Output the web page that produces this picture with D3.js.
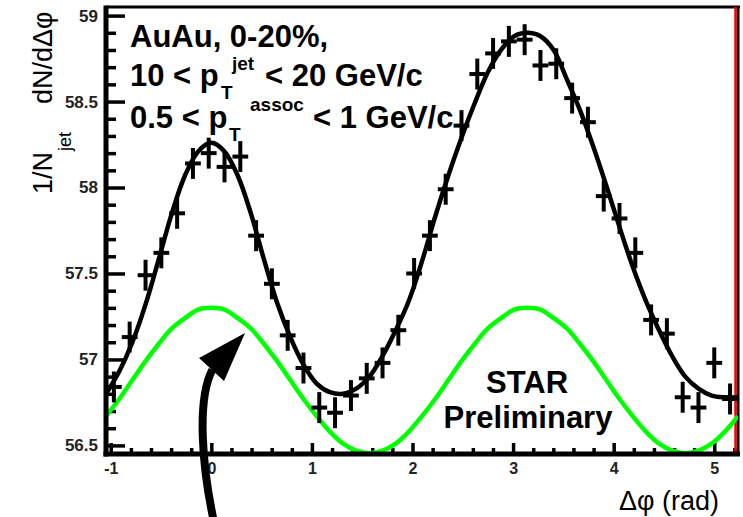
<!DOCTYPE html>
<html><head><meta charset="utf-8">
<script src="https://cdn.jsdelivr.net/npm/d3@7"></script>
<style>
body{margin:0;background:#fff}
svg{display:block;background:#fff}
text{font-family:"Liberation Sans",Arial,Helvetica,sans-serif}
</style>
</head><body>
<svg id="c" width="743" height="517"></svg>
<script>
// ---------- data ----------
const binCenters = [-0.969,-0.812,-0.654,-0.497,-0.340,-0.183,-0.026,0.131,0.288,0.445,
  0.602,0.759,0.916,1.073,1.230,1.388,1.545,1.702,1.859,2.016,
  2.173,2.330,2.487,2.644,2.801,2.958,3.115,3.272,3.429,3.587,
  3.744,3.901,4.058,4.215,4.372,4.529,4.686,4.843,5.000,5.157];
const binHalfWidth = 0.0785;
const binValues = [56.84,57.13,57.49,57.62,57.85,58.14,58.20,58.12,58.18,57.72,
  57.44,57.14,56.95,56.72,56.69,56.79,56.89,56.98,57.17,57.50,
  57.72,57.99,58.36,58.66,58.78,58.85,58.86,58.71,58.72,58.52,
  58.38,57.95,57.82,57.62,57.23,57.15,56.78,56.72,56.98,56.77];
const binErrors = [0.09,0.09,0.09,0.09,0.09,0.09,0.09,0.09,0.09,0.09,
  0.09,0.09,0.09,0.09,0.09,0.09,0.09,0.09,0.09,0.09,
  0.09,0.09,0.09,0.09,0.09,0.09,0.09,0.09,0.09,0.09,
  0.09,0.09,0.09,0.09,0.09,0.09,0.09,0.09,0.09,0.09];
const curveX = [-1.047,-0.916,-0.785,-0.654,-0.524,-0.393,-0.262,-0.131,0,0.131,
  0.262,0.393,0.524,0.654,0.785,0.916,1.047,1.178,1.309,1.440,
  1.571,1.702,1.833,1.963,2.094,2.225,2.356,2.487,2.618,2.749,
  2.880,3.011,3.142,3.272,3.403,3.534,3.665,3.796,3.927,4.058,
  4.189,4.320,4.451,4.581,4.712,4.843,4.974,5.105,5.236];
const fitValues = [56.80,56.93,57.10,57.32,57.58,57.85,58.07,58.21,58.26,58.21,
  58.07,57.85,57.58,57.33,57.13,56.97,56.86,56.81,56.80,56.83,
  56.90,57.02,57.17,57.34,57.57,57.83,58.07,58.29,58.49,58.67,
  58.80,58.88,58.90,58.88,58.80,58.63,58.45,58.24,58.01,57.77,
  57.54,57.34,57.17,57.02,56.90,56.83,56.79,56.78,56.78];
const flowValues = [56.67,56.77,56.88,56.99,57.09,57.18,57.24,57.29,57.30,57.29,
  57.24,57.18,57.09,56.99,56.88,56.77,56.67,56.58,56.51,56.47,
  56.455,56.47,56.51,56.58,56.67,56.77,56.88,56.99,57.09,57.18,
  57.24,57.29,57.30,57.29,57.24,57.18,57.09,56.99,56.88,56.77,
  56.67,56.58,56.51,56.47,56.455,56.47,56.51,56.58,56.67];
const xTickValues = [-1,0,1,2,3,4,5];
const yTickValues = [56.5,57,57.5,58,58.5,59];
const xDomain = [-Math.PI/3, 5*Math.PI/3];
const yDomain = [56.45, 59.05];

// ---------- layout ----------
const svg = d3.select('#c');
const L = 106, R = 738, T = 7, B = 454;
const x = d3.scaleLinear().domain(xDomain).range([L, R]);
const y = d3.scaleLinear().domain(yDomain).range([B, T]);

svg.append('defs').append('clipPath').attr('id','clip')
  .append('rect').attr('x',L).attr('y',T).attr('width',R-L).attr('height',B-T);

// minor ticks
const yMinor = d3.range(56.5, 59.001, 0.1).map(v=>+v.toFixed(2)).filter(v=>!yTickValues.includes(v));
const xMinor = d3.range(-1, 5.201, 0.2).map(v=>+v.toFixed(2)).filter(v=>!xTickValues.includes(v));

const gyMinor = svg.append('g').attr('transform',`translate(${L},0)`)
  .call(d3.axisLeft(y).tickValues(yMinor).tickSizeInner(-10).tickSizeOuter(0).tickFormat(''));
const gxMinor = svg.append('g').attr('transform',`translate(0,${B})`)
  .call(d3.axisBottom(x).tickValues(xMinor).tickSizeInner(-6).tickSizeOuter(0).tickFormat(''));
const gy = svg.append('g').attr('transform',`translate(${L},0)`)
  .call(d3.axisLeft(y).tickValues(yTickValues).tickSizeInner(-19).tickSizeOuter(0).tickPadding(8).tickFormat(d=>String(d)));
const gx = svg.append('g').attr('transform',`translate(0,${B})`)
  .call(d3.axisBottom(x).tickValues(xTickValues).tickSizeInner(-11).tickSizeOuter(0).tickPadding(9).tickFormat(d=>String(d)));
[gyMinor,gxMinor,gy,gx].forEach(g=>{
  g.select('.domain').remove();
  g.selectAll('.tick line').attr('stroke','#000').attr('stroke-width',3.5);
});
gy.selectAll('.tick text').attr('fill','#222').style('font-size','17px').style('font-weight','bold');
gx.selectAll('.tick text').attr('fill','#222').style('font-size','16px').style('font-weight','bold');

// frame
svg.append('line').attr('x1',L).attr('x2',R+2).attr('y1',T).attr('y2',T).attr('stroke','#000').attr('stroke-width',3);
svg.append('line').attr('x1',R).attr('x2',R).attr('y1',T).attr('y2',B).attr('stroke','#000').attr('stroke-width',3);
svg.append('line').attr('x1',R-2.5).attr('x2',R-2.5).attr('y1',T).attr('y2',B).attr('stroke','#ff0000').attr('stroke-width',2.5);

// curves
const plot = svg.append('g').attr('clip-path','url(#clip)');
const lineGen = d3.line().x(d=>x(d[0])).y(d=>y(d[1])).curve(d3.curveCatmullRom.alpha(0.5));
plot.append('path').datum(curveX.map((v,i)=>[v,flowValues[i]]))
  .attr('d',lineGen).attr('fill','none').attr('stroke','#00ff00').attr('stroke-width',4.5);
plot.append('path').datum(curveX.map((v,i)=>[v,fitValues[i]]))
  .attr('d',lineGen).attr('fill','none').attr('stroke','#000').attr('stroke-width',4.5);

// data points (crosses)
const pts = plot.selectAll('g.pt').data(binCenters.map((c,i)=>({c,v:binValues[i],e:binErrors[i]})))
  .enter().append('g').attr('class','pt');
pts.append('line').attr('x1',d=>x(d.c-binHalfWidth)).attr('x2',d=>x(d.c+binHalfWidth))
  .attr('y1',d=>y(d.v)).attr('y2',d=>y(d.v)).attr('stroke','#000').attr('stroke-width',4);
pts.append('line').attr('x1',d=>x(d.c)).attr('x2',d=>x(d.c))
  .attr('y1',d=>y(d.v-d.e)).attr('y2',d=>y(d.v+d.e)).attr('stroke','#000').attr('stroke-width',4);

// axes lines
svg.append('line').attr('x1',L).attr('x2',L).attr('y1',T-1.5).attr('y2',B+2.5).attr('stroke','#000').attr('stroke-width',5);
svg.append('line').attr('x1',L-2.5).attr('x2',R+2).attr('y1',B).attr('y2',B).attr('stroke','#000').attr('stroke-width',5);

// annotation arrow (data coordinates)
const arrowShaft = [[0.017,56.08],[-0.083,56.36],[-0.152,56.76],[0.01,56.94]];
const arrowHead = [[0.335,57.154],[-0.122,57.008],[0.126,56.874]];
const sp = arrowShaft.map(p=>[x(p[0]),y(p[1])]);
svg.append('path').attr('d',`M${sp[0]}C${sp[1]} ${sp[2]} ${sp[3]}`)
  .attr('fill','none').attr('stroke','#000').attr('stroke-width',8);
svg.append('path').attr('d','M'+arrowHead.map(p=>[x(p[0]),y(p[1])]).join('L')+'Z').attr('fill','#000');

// texts
const big = 31, small = 19;
function t(str,px,py,size,weight,anchor){
  return svg.append('text').attr('x',px).attr('y',py).text(str)
    .style('font-size',size+'px').style('font-weight',weight||'normal')
    .attr('text-anchor',anchor||'start').attr('fill','#000');
}
t('AuAu, 0-20%,',130,47,big,'bold');
t('10 < p',130,86,big,'bold');
t('T',221,99,small,'bold');
t('jet',232,70,small,'bold');
t('< 20 GeV/c',265,86,big,'bold');
t('0.5 < p',130,128,big,'bold');
t('T',229,141,small,'bold');
t('assoc',250,111,small,'bold');
t('< 1 GeV/c',313,128,big,'bold');
t('STAR',527,393,big,'bold','middle');
t('Preliminary',528,428,big,'bold','middle');
t('Δφ (rad)',719,510,27,'normal','end');

const yt = svg.append('g').attr('transform','translate(52,194) rotate(-90)');
yt.append('text').attr('x',0).attr('y',0).text('1/N').style('font-size','27px');
yt.append('text').attr('x',43).attr('y',19).text('jet').style('font-size','18px');
yt.append('text').attr('x',90).attr('y',0).text('dN/dΔφ').style('font-size','27px');
</script>
</body></html>
